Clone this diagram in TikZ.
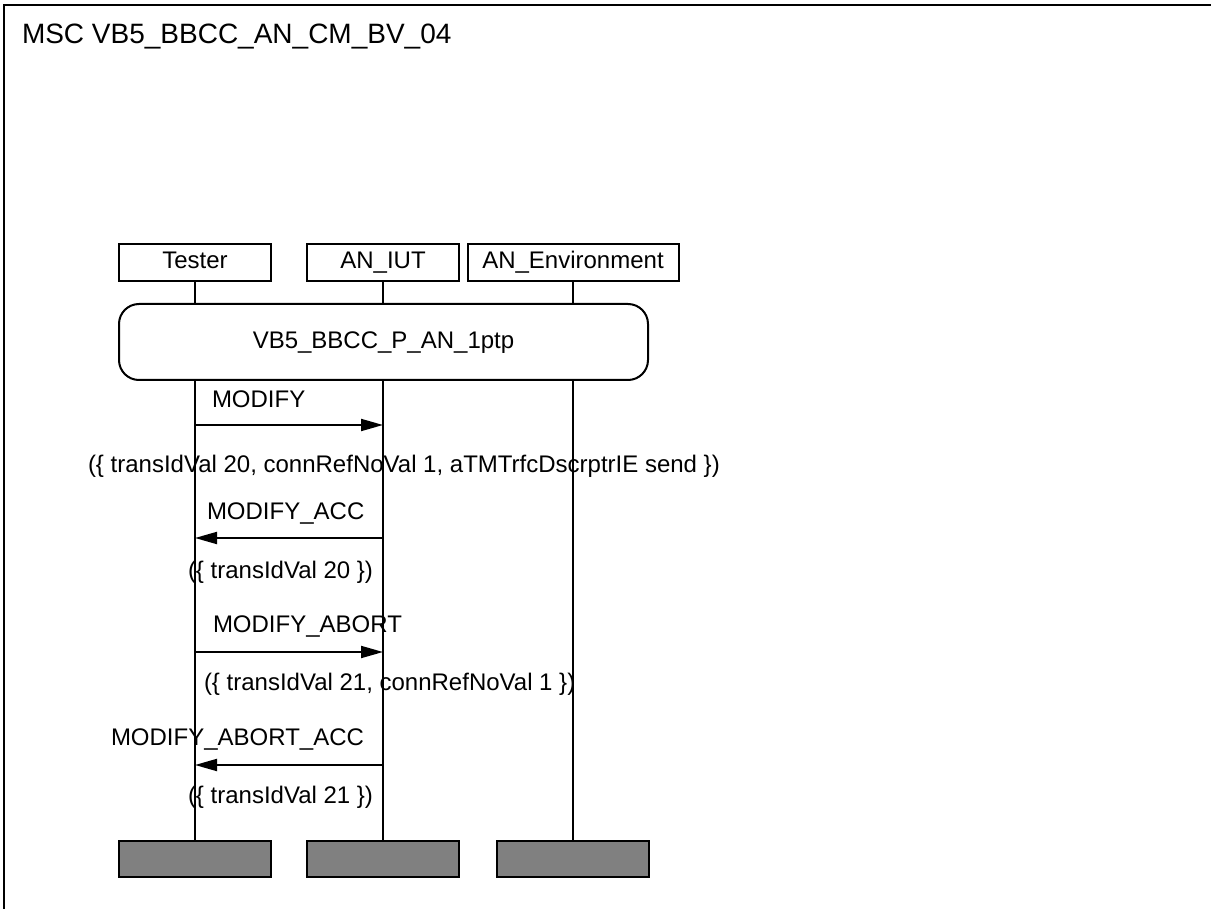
\documentclass[tikz,border=0pt]{standalone}
\usepackage{fontspec}
\setmainfont{Liberation Sans}
\usetikzlibrary{arrows.meta}
\begin{document}
\begin{tikzpicture}[x=1pt,y=-1pt,
  every node/.style={font=\fontsize{24}{28}\selectfont, inner sep=0pt, outer sep=0pt},
  lbl/.style={anchor=base west},
  headbox/.style={draw, line width=2pt, minimum height=37pt, text height=17pt, text depth=4pt},
  condbox/.style={draw, line width=2pt, rounded corners=20pt, minimum width=529pt, minimum height=76pt, text height=17pt, text depth=4pt},
  endbox/.style={draw, line width=2.6pt, fill={rgb,255:red,128;green,128;blue,128}, minimum width=152pt, minimum height=36pt},
  life/.style={line width=2pt},
  msg/.style={line width=2pt, -{Triangle[length=22pt,width=12pt]}}]
\useasboundingbox (0,0) rectangle (1211,909);
% frame
\coordinate (fbl) at (4,909);
\coordinate (ftl) at (4,5);
\coordinate (ftr) at (1211,5);
\draw[line width=2pt] (fbl) -- (ftl) -- (ftr);
\node[lbl, font=\fontsize{28}{32}\selectfont] (title) at (22,44) {MSC VB5\_BBCC\_AN\_CM\_BV\_04};
% instance heads
\node[headbox, minimum width=152pt] (tester) at (195,262.5) {Tester};
\node[headbox, minimum width=152pt] (iut) at (383,262.5) {AN\_IUT};
\node[headbox, minimum width=211pt] (env) at (573,262.5) {AN\_Environment};
% condition
\node[condbox] (cond) at (383.5,342) {VB5\_BBCC\_P\_AN\_1ptp};
% end boxes
\node[endbox] (tend) at (195,859) {};
\node[endbox] (iend) at (383,859) {};
\node[endbox] (eend) at (573,859) {};
% lifelines
\draw[life] (tester.south) -- (tester.south |- cond.north);
\draw[life] (iut.south) -- (iut.south |- cond.north);
\draw[life] (env.south) -- (env.south |- cond.north);
\draw[life] (tend.north |- cond.south) -- (tend.north);
\draw[life] (iend.north |- cond.south) -- (iend.north);
\draw[life] (eend.north |- cond.south) -- (eend.north);
% message levels
\coordinate (y1) at (0,425);
\coordinate (y2) at (0,538);
\coordinate (y3) at (0,652);
\coordinate (y4) at (0,765);
\draw[msg] (tend.north |- y1) -- (iend.north |- y1);
\draw[msg] (iend.north |- y2) -- (tend.north |- y2);
\draw[msg] (tend.north |- y3) -- (iend.north |- y3);
\draw[msg] (iend.north |- y4) -- (tend.north |- y4);
% labels
\node[lbl] (l1) at (212,407) {MODIFY};
\node[lbl] (p1) at (88,472) {(\{ transIdVal 20, connRefNoVal 1, aTMTrfcDscrptrIE send \})};
\node[lbl] (l2) at (207,519) {MODIFY\_ACC};
\node[lbl] (p2) at (188,578) {(\{ transIdVal 20 \})};
\node[lbl] (l3) at (213,632) {MODIFY\_ABORT};
\node[lbl] (p3) at (204,690) {(\{ transIdVal 21, connRefNoVal 1 \})};
\node[lbl] (l4) at (111,745) {MODIFY\_ABORT\_ACC};
\node[lbl] (p4) at (188,803) {(\{ transIdVal 21 \})};
\end{tikzpicture}
\end{document}
